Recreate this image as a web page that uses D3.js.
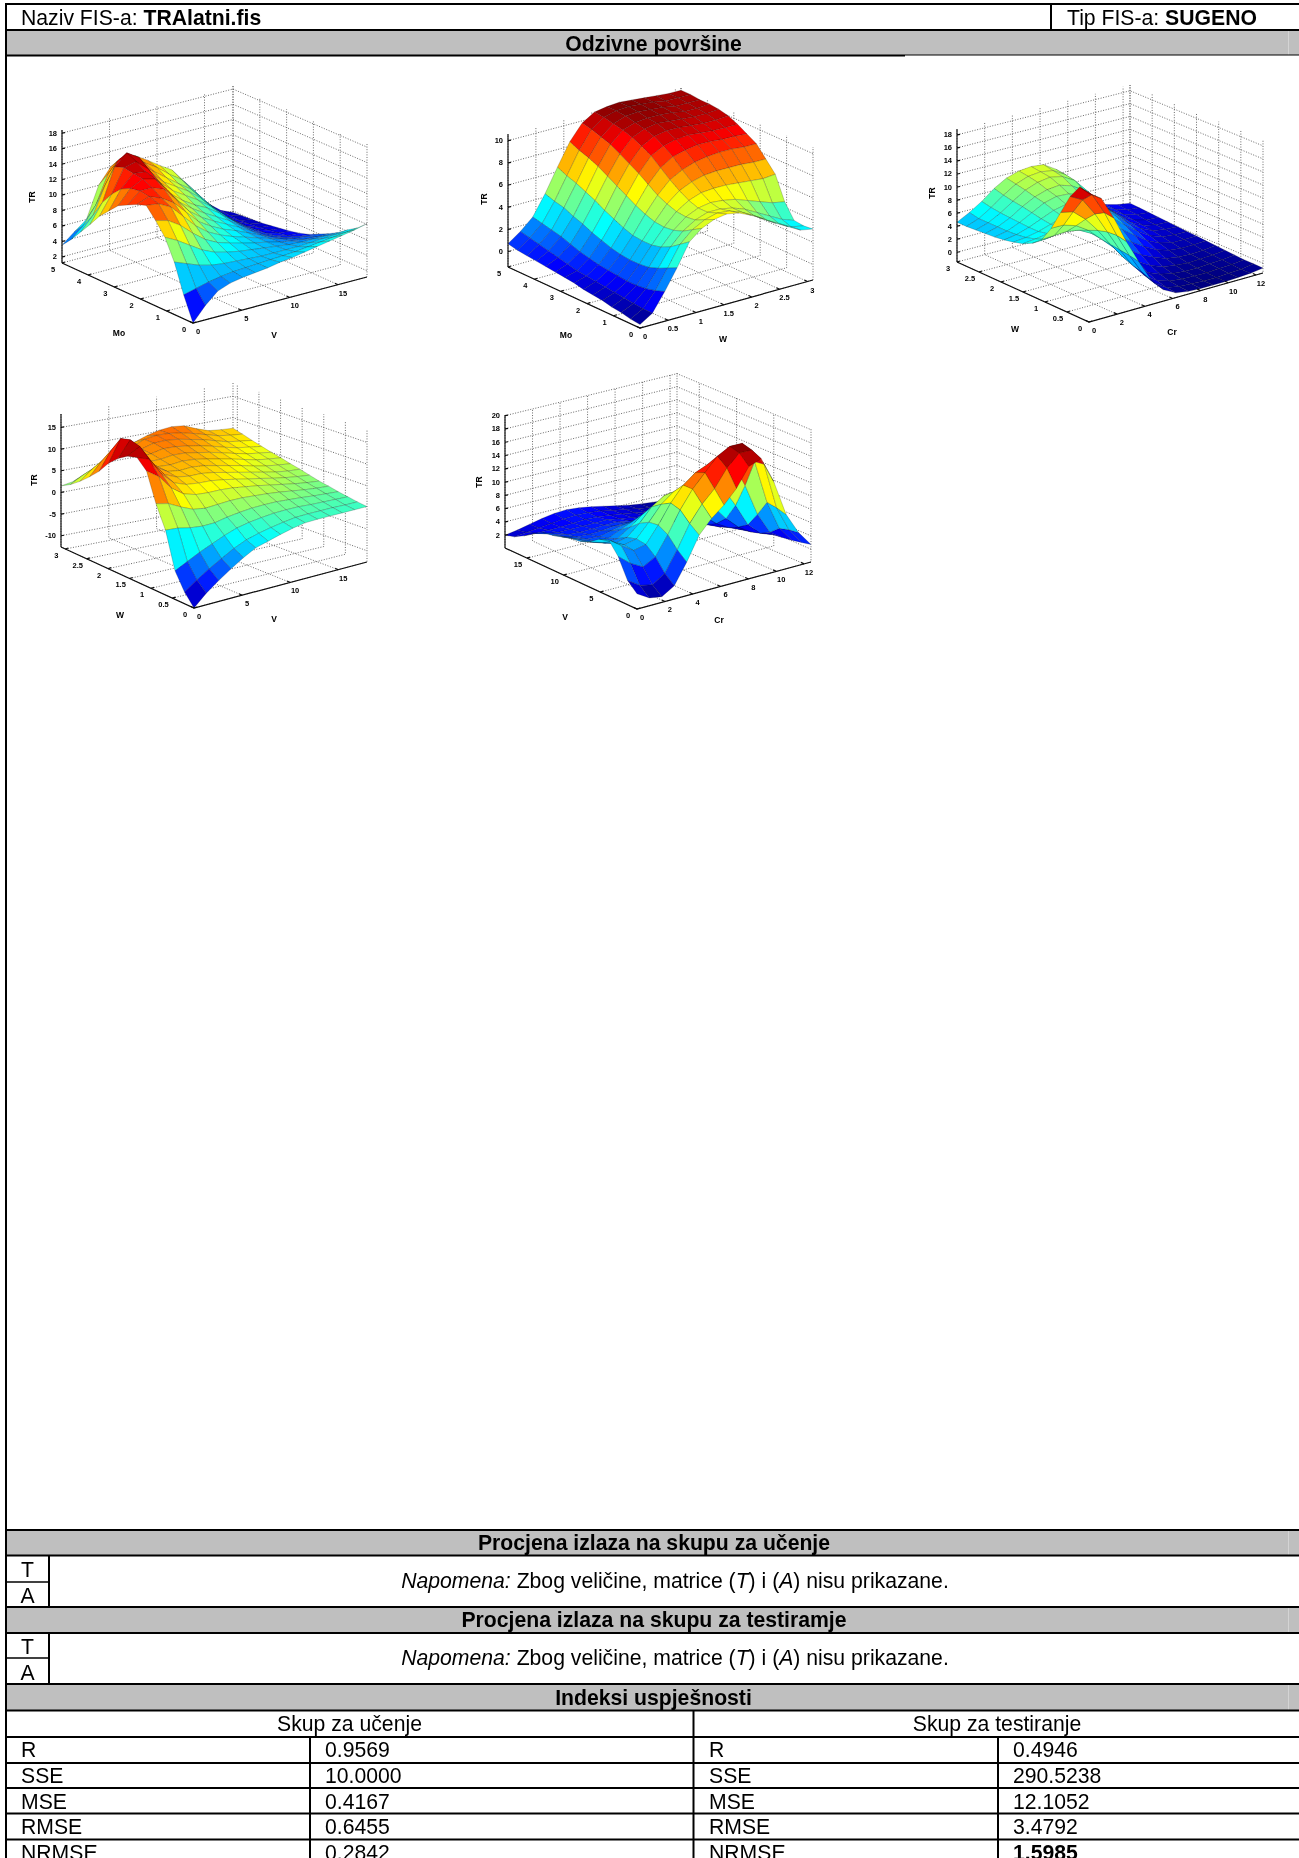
<!DOCTYPE html>
<html><head><meta charset="utf-8">
<script src="https://cdnjs.cloudflare.com/ajax/libs/d3/7.8.5/d3.min.js"></script>
<style>html,body{margin:0;padding:0;background:#fff}svg{display:block}
text{font-family:"Liberation Sans",Arial,sans-serif;fill:#000}</style></head><body>
<script>
// ---------- values ----------
const moTicks=[0,1,2,3,4,5], wTicks=[0,0.5,1,1.5,2,2.5,3], vTicks=[0,5,10,15], crTicks=[0,2,4,6,8,10,12];
const z1Ticks=[2,4,6,8,10,12,14,16,18], z2Ticks=[0,2,4,6,8,10], z3Ticks=[0,2,4,6,8,10,12,14,16,18],
      z4Ticks=[-10,-5,0,5,10,15], z5Ticks=[2,4,6,8,10,12,14,16,18,20];
// rows: left-going axis (0..max); columns: right-going axis (0..max)
const trMoV=[
[1.2,3.0,4.4,5.0,5.3,5.5,5.7,6.0,6.2,6.5,6.8,7.1,7.4,7.7,8.1],
[4.2,4.6,5.0,5.3,5.5,5.6,5.7,5.8,5.9,6.0,6.2,6.4,6.6,6.8,7.0],
[7.8,7.2,6.6,6.2,6.0,5.9,5.8,5.7,5.7,5.7,5.7,5.8,5.9,6.0,6.2],
[10.4,9.6,8.6,7.6,6.9,6.5,6.2,6.0,5.8,5.6,5.4,5.3,5.3,5.3,5.3],
[12.0,11.6,10.6,9.2,8.0,7.2,6.7,6.3,5.9,5.6,5.2,4.9,4.7,4.6,4.6],
[13.4,13.2,12.4,10.8,9.2,8.0,7.2,6.6,6.1,5.6,5.1,4.6,4.2,4.1,4.0],
[13.0,13.6,13.0,12.0,10.4,8.8,7.8,7.0,6.4,5.7,5.0,4.3,3.8,3.5,3.4],
[12.4,13.8,13.8,13.2,11.4,9.6,8.4,7.5,6.7,5.9,5.0,4.1,3.5,3.1,3.0],
[11.8,13.6,14.4,14.0,12.2,10.2,9.0,8.0,7.1,6.2,5.1,4.1,3.3,2.9,2.7],
[10.6,13.0,14.6,14.4,12.8,10.8,9.5,8.5,7.7,6.6,5.3,4.1,3.2,2.7,2.5],
[9.4,11.8,14.8,15.2,13.8,11.6,10.2,9.2,8.2,7.0,5.6,4.2,3.1,2.5,2.3],
[7.8,10.2,14.4,15.8,14.8,12.4,10.8,9.8,8.8,7.5,5.9,4.3,3.1,2.4,2.1],
[6.3,8.0,11.5,14.2,14.6,12.8,11.6,10.4,9.2,8.1,6.4,4.6,3.2,2.3,2.0],
[4.8,6.2,8.4,12.0,13.6,13.0,12.2,11.2,9.9,8.8,7.0,5.0,3.5,2.4,1.9],
[3.5,4.8,6.0,10.0,12.0,12.8,12.6,11.6,10.5,9.5,7.6,5.5,3.8,2.5,1.8]];
const trMoW=[
[-1.1,-0.4,1.2,3.0,5.0,5.9,6.4,6.6,6.4,5.9,5.3,4.6,4.0,3.4,3.2],
[-1.0,-0.4,0.9,2.6,4.4,5.4,6.0,6.3,6.2,5.8,5.2,4.5,3.9,3.3,3.1],
[-0.8,-0.3,0.7,2.2,3.8,4.9,5.6,6.0,6.0,5.8,5.4,4.8,4.2,3.6,3.2],
[-0.7,-0.2,0.6,1.9,3.4,4.6,5.5,6.0,6.2,6.1,5.9,5.5,5.1,4.7,4.5],
[-0.5,-0.1,0.6,1.8,3.2,4.5,5.6,6.3,6.7,6.8,6.8,6.7,6.6,6.5,6.6],
[-0.4,0,0.7,1.8,3.2,4.6,5.9,6.8,7.3,7.6,7.7,7.7,7.7,7.6,7.6],
[-0.3,0.1,0.8,1.9,3.3,4.9,6.3,7.4,8.0,8.4,8.6,8.7,8.7,8.6,8.6],
[-0.1,0.2,0.9,2.1,3.6,5.3,6.9,8.1,8.8,9.1,9.3,9.3,9.2,9.2,9.1],
[0,0.3,1.1,2.4,4.0,5.8,7.5,8.8,9.4,9.7,9.8,9.7,9.6,9.6,9.6],
[0.1,0.5,1.3,2.7,4.4,6.3,8.0,9.3,9.9,10.1,10.1,10,9.9,9.9,10],
[0.2,0.7,1.6,3.1,4.9,6.8,8.5,9.7,10.2,10.4,10.3,10.2,10.1,10.1,10.2],
[0.3,0.9,1.9,3.4,5.3,7.3,9,10,10.4,10.5,10.5,10.4,10.2,10.2,10.3],
[0.4,1.1,2.1,3.8,5.7,7.7,9.3,10.2,10.6,10.7,10.6,10.5,10.3,10.3,10.3],
[0.5,1.3,2.3,4.0,6.0,8,9.6,10.4,10.7,10.8,10.7,10.6,10.4,10.4,10.4],
[0.7,1.5,2.5,4.3,6.4,8.4,9.8,10.5,10.7,10.8,10.7,10.6,10.5,10.4,10.4]];
const trWCr=[
[17.6,16.4,13,9,5.5,2.2,0.2,-0.8,-1.1,-1.2,-1.2,-1.2,-1.1,-1,-0.75],
[18,16.4,13.2,9.3,5.8,2.8,0.6,-0.6,-1,-1.1,-1.2,-1.2,-1.1,-1,-0.7],
[16,15,12.4,9.2,6,3.2,1.1,-0.2,-0.8,-1,-1.1,-1.1,-1,-0.9,-0.7],
[13,12.6,11,8.8,6.2,3.8,1.8,0.4,-0.4,-0.8,-1,-1,-0.9,-0.8,-0.6],
[10,10,9.4,8.2,6.4,4.6,2.8,1.4,0.3,-0.4,-0.7,-0.9,-0.8,-0.7,-0.5],
[7.7,7.8,7.9,7.6,6.6,5.4,4,2.6,1.3,0.4,-0.3,-0.6,-0.7,-0.6,-0.4],
[6.5,6.6,6.9,7,6.9,6.2,5.2,4,2.6,1.4,0.4,-0.2,-0.4,-0.4,-0.3],
[5.8,6,6.3,6.7,7,6.9,6.3,5.3,3.9,2.5,1.2,0.3,-0.2,-0.2,-0.2],
[5.4,5.6,6,6.6,7.2,7.4,7,6.2,5,3.4,2,0.8,0.1,-0.1,-0.1],
[5.1,5.4,6,6.8,7.6,8,7.8,7.1,5.9,4.2,2.6,1.3,0.4,0.1,0],
[4.9,5.3,6.1,7.1,8.1,8.6,8.5,7.8,6.5,4.8,3.1,1.6,0.6,0.2,0.1],
[4.8,5.3,6.2,7.4,8.4,9,9.2,8.6,7.4,5.6,3.4,1.9,0.8,0.3,0.2],
[4.7,5.3,6.3,7.6,8.8,9.5,9.8,9.4,8.3,6.2,3.7,2.1,1,0.5,0.3],
[4.6,5.3,6.5,7.9,9.1,9.8,10,9.7,8.6,6.4,3.9,2.2,1.2,0.6,0.4],
[4.6,5.6,6.8,8.3,9.4,10,10.2,10,8.8,6.6,4,2.3,1.3,0.8,0.5]];
const trWV=[
[-12.6,-10,-7.9,-6,-4.2,-2.7,-1.9,-1.1,-0.4,0.1,0.2,0.2,0.2,0.2,0.2],
[-10,-8,-6.2,-4.6,-3,-1.8,-1,-0.4,0.1,0.5,0.6,0.6,0.6,0.5,0.5],
[-6.2,-4.8,-3.4,-2.2,-1,0,0.6,1,1.3,1.4,1.4,1.2,1.1,1,0.9],
[2,1.8,1.2,0.9,1,1.6,2,2.3,2.4,2.4,2.2,2,1.7,1.5,1.3],
[7,6.4,5,3.8,3.4,3.6,3.8,3.8,3.6,3.4,3.1,2.7,2.3,2,1.8],
[13.5,11.6,8.4,6.4,5.6,5.4,5.4,5.2,4.8,4.4,3.9,3.4,2.9,2.5,2.2],
[15.6,14.6,10.6,8,7,6.7,6.6,6.2,5.7,5.1,4.6,4,3.5,3.1,2.8],
[15,16.6,12.4,9,7.8,7.4,7.4,7,6.4,5.8,5.2,4.6,4,3.6,3.4],
[13.5,17.2,13.6,9.8,8.2,7.8,8,7.7,7.1,6.5,5.9,5.2,4.6,4.2,3.9],
[11.5,16.6,14.2,10.2,8.4,8.2,8.5,8.3,7.8,7.2,6.6,5.9,5.2,4.8,4.5],
[8.7,13,13.6,10.4,8.6,8.6,9,8.9,8.4,7.9,7.2,6.5,5.8,5.4,5],
[6.5,9.6,11.2,9.8,8.8,9,9.6,9.5,9.1,8.6,7.9,7.1,6.4,6,5.6],
[4.5,6.8,8.4,8.6,8.6,9.2,10,10.1,9.8,9.2,8.6,7.8,7,6.6,6.2],
[2.8,4.4,5.6,6.6,7.6,8.8,10,10.4,10.3,9.9,9.2,8.4,7.6,7.2,6.9],
[1.5,2,3,4,5.5,7,8.5,9.5,10.2,10.5,10.2,9,8,7.7,7.5]];
const trVCr=[
[2.3,1.2,0.9,2,5,8.5,10.5,12,14,16.8,17.5,13.6,8.2,5,2.7],
[3.6,2.4,2,3.2,6.2,9.6,12,13.8,16.4,18.2,18.2,15.6,8.6,4.8,2.4],
[6.5,5,4,5,7.8,11,13.6,15.6,17.6,18.6,18.6,15.4,8.8,4.4,2.1],
[8.3,7,5.8,6.2,8.6,11.4,13.6,15,15.8,16,15,11.2,6.4,3.2,1.9],
[7.8,7,6,6.4,8.4,10.6,12,12.6,12.6,12,10.6,7.6,4.2,2.4,1.7],
[6.8,6.2,5.6,6,7.6,9.6,10.8,11,10.4,9.2,7.2,5,3.2,2,1.5],
[6.2,5.6,5,5.2,6.4,7.8,8.6,8.6,7.9,6.8,5.2,3.6,2.5,1.7,1.3],
[6,5.2,4.6,4.6,5.4,6.2,6.6,6.4,5.8,4.9,3.8,2.8,2,1.5,1.2],
[5.6,4.9,4.3,4.2,4.6,5,5.1,4.8,4.3,3.7,3,2.3,1.7,1.3,1.1],
[5.2,4.5,4,3.9,4,4.2,4.2,3.9,3.5,3,2.5,2,1.6,1.2,1],
[5,4.2,3.7,3.6,3.6,3.7,3.7,3.4,3,2.7,2.3,1.9,1.5,1.2,1],
[4.2,3.7,3.4,3.4,3.4,3.4,3.4,3.1,2.8,2.5,2.1,1.8,1.5,1.2,1],
[3.2,3.1,3.1,3.1,3.2,3.3,3.2,3,2.7,2.4,2,1.7,1.4,1.2,1],
[2.4,2.6,2.8,3,3.2,3.3,3.2,3,2.6,2.3,1.9,1.6,1.4,1.2,1],
[2,2.3,2.7,3.1,3.4,3.5,3.3,3,2.6,2.2,1.8,1.5,1.3,1.1,1]];
const metricNames=["R","SSE","MSE","RMSE","NRMSE"];
const trainValues=["0.9569","10.0000","0.4167","0.6455","0.2842"];
const testValues=["0.4946","290.5238","12.1052","3.4792","1.5985"];

// ---------- page ----------
const W=1299,H=1858;
const svg=d3.select("body").append("svg").attr("width",W).attr("height",H).attr("viewBox",[0,0,W,H]);
svg.append("rect").attr("width",W).attr("height",H).attr("fill","#fff");
const defs=svg.append("defs");
defs.append("filter").attr("id","soft").attr("x","-5%").attr("y","-5%").attr("width","110%").attr("height","110%")
  .append("feGaussianBlur").attr("stdDeviation",0.6);
defs.append("filter").attr("id","softT").attr("filterUnits","userSpaceOnUse").attr("x",0).attr("y",0).attr("width",W).attr("height",H)
  .append("feGaussianBlur").attr("stdDeviation",0.3);

// ---------- surfaces ----------
const jet=d3.scaleLinear().domain([0,0.125,0.375,0.625,0.875,1])
  .range(["#00007f","#0000ff","#00ffff","#ffff00","#ff0000","#7f0000"]).clamp(true);
const plots=[
 {z:trMoV,A:["Mo",5,moTicks],B:["V",18,vTicks],zd:[1.2,18.4],zt:z1Ticks,
  c:{left:[62,263],front:[193,323],right:[367,277],back:[233,217]},aL:[119,336],bL:[274,338],tL:[35,197]},
 {z:trMoW,A:["Mo",5,moTicks],B:["W",3.1,wTicks],zd:[-1.4,10.6],zt:z2Ticks,
  c:{left:[508,267],front:[640,328],right:[813,280],back:[681,219]},aL:[566,338],bL:[723,342],tL:[487,199]},
 {z:trWCr,A:["W",3,wTicks],B:["Cr",12.5,crTicks],zd:[-1.5,18.9],zt:z3Ticks,
  c:{left:[957,262],front:[1089,322],right:[1263,273],back:[1130,216]},aL:[1015,332],bL:[1172,335],tL:[935,193]},
 {z:trWV,A:["W",3.1,wTicks],B:["V",18,vTicks],zd:[-12.6,18.1],zt:z4Ticks,
  c:{left:[61,547],front:[194,608],right:[367,562],back:[233,514]},aL:[120,618],bL:[274,622],tL:[37,480]},
 {z:trVCr,A:["V",18,vTicks],B:["Cr",12.5,crTicks],zd:[0.07,20.1],zt:z5Ticks,
  c:{left:[505,548],front:[637,609],right:[811,562],back:[677,504]},aL:[565,620],bL:[719,623],tL:[482,482]}
];
const unit=d3.scaleLinear().domain([0,1]);
plots.forEach(p=>{
  const g=svg.append("g").attr("filter","url(#soft)");
  const near=unit.copy().range([p.c.front,p.c.right]), far=unit.copy().range([p.c.left,p.c.back]);
  const hNear=unit.copy().range([137,133]), hFar=unit.copy().range([133,131]);
  const zn=d3.scaleLinear().domain(p.zd).range([0,1]);
  // u: fraction along left-going axis, v: along right-going axis, zv: data value
  const proj=(u,v,zv)=>{
    const xy=unit.copy().range([near(v),far(v)])(u);
    const h=unit.copy().range([hNear(v),hFar(v)])(u);
    return [xy[0],xy[1]-zn(zv)*h];
  };
  const uA=d3.scaleLinear().domain([0,p.A[1]]).range([0,1]);
  const uB=d3.scaleLinear().domain([0,p.B[1]]).range([0,1]);
  const [z0,z1]=p.zd;
  const grid=[];
  p.zt.forEach(t=>{grid.push([proj(1,0,t),proj(1,1,t),proj(0,1,t)]);});
  p.B[2].forEach(t=>{const v=uB(t);grid.push([proj(0,v,z0),proj(1,v,z0),proj(1,v,z1)]);});
  p.A[2].forEach(t=>{const u=uA(t);grid.push([proj(u,0,z0),proj(u,1,z0),proj(u,1,z1)]);});
  grid.push([proj(1,1,z0),proj(1,1,z1)]);
  g.append("g").selectAll("path").data(grid).join("path")
    .attr("d",d3.line()).attr("fill","none").attr("stroke","#444").attr("stroke-width",0.8).attr("stroke-dasharray","1 1.6");
  // surface cells, painted from the far corner to the near corner
  const n=p.z.length-1,m=p.z[0].length-1;
  const flat=p.z.flat(), col=d3.scaleLinear().domain(d3.extent(flat)).range([0,1]);
  const cells=[];
  for(let i=n-1;i>=0;i--)for(let j=m-1;j>=0;j--){
    const a=p.z[i][j],b=p.z[i+1][j],c=p.z[i+1][j+1],d=p.z[i][j+1];
    cells.push({pts:[proj(i/n,j/m,a),proj((i+1)/n,j/m,b),proj((i+1)/n,(j+1)/m,c),proj(i/n,(j+1)/m,d)],val:(a+b+c+d)/4});
  }
  g.append("g").selectAll("path").data(cells).join("path")
    .attr("d",d=>d3.line()(d.pts)+"Z").attr("fill",d=>jet(col(d.val)))
    .attr("stroke","#111").attr("stroke-opacity",0.45).attr("stroke-width",0.45).attr("stroke-linejoin","round");
  // axes
  const ax=g.append("g").attr("stroke","#111").attr("stroke-width",1.2).attr("fill","none");
  ax.append("path").attr("d",d3.line()([proj(1,0,z0),proj(0,0,z0),proj(0,1,z0)]));
  ax.append("path").attr("d",d3.line()([proj(1,0,z0),proj(1,0,z1)]));
  const tx=g.append("g").attr("font-size",7.5).attr("font-weight","bold").attr("text-anchor","middle");
  p.A[2].forEach(t=>{const q=proj(uA(t),0,z0);
    ax.append("path").attr("d",d3.line()([q,[q[0]+3,q[1]-1]]));
    tx.append("text").attr("x",q[0]-9).attr("y",q[1]+9).text(t);});
  p.B[2].forEach(t=>{const q=proj(0,uB(t),z0);
    ax.append("path").attr("d",d3.line()([q,[q[0]-3,q[1]-1.5]]));
    tx.append("text").attr("x",q[0]+5).attr("y",q[1]+11).text(t);});
  p.zt.forEach(t=>{const q=proj(1,0,t);
    ax.append("path").attr("d",d3.line()([q,[q[0]+3,q[1]-0.5]]));
    tx.append("text").attr("x",q[0]-5).attr("y",q[1]+2.5).attr("text-anchor","end").text(t);});
  const lab=g.append("g").attr("font-size",8.5).attr("font-weight","bold").attr("text-anchor","middle");
  lab.append("text").attr("x",p.aL[0]).attr("y",p.aL[1]).text(p.A[0]);
  lab.append("text").attr("x",p.bL[0]).attr("y",p.bL[1]).text(p.B[0]);
  lab.append("text").attr("transform",`translate(${p.tL[0]},${p.tL[1]}) rotate(-90)`).text("TR");
});

// ---------- table ----------
const grayRows=[[31,55],[1531,1555],[1608,1632],[1685,1710]];
const hLines=[[5,1299,4,2],[5,1299,30,2],[5,905,55.5,2],[905,1299,55,1],[5,1299,1530,2],[5,1299,1555.5,2],[6,49,1582,1.5],[5,1299,1607,2],
  [5,1299,1633,2],[6,49,1658,1.5],[5,1299,1684,2],[5,1299,1710.5,2],[5,1299,1737,2],[5,1299,1763,2],[5,1299,1788,2],[5,1299,1813.5,2],[5,1299,1839.5,2]];
const vLines=[[6,4,1858,2],[1051,4,30,2],[49,1555,1607,2],[49,1633,1684,2],[693.5,1710,1858,2],[310,1737,1858,2],[998,1737,1858,2]];
svg.append("g").selectAll("rect").data(grayRows).join("rect")
  .attr("x",6).attr("y",d=>d[0]).attr("width",W-6).attr("height",d=>d[1]-d[0]).attr("fill","#bfbfbf");
svg.append("g").selectAll("rect").data(grayRows).join("rect")
  .attr("x",1288).attr("y",d=>d[0]).attr("width",1).attr("height",d=>d[1]-d[0]).attr("fill","#d4d4d4");
const tb=svg.append("g").attr("filter","url(#softT)");
tb.append("g").selectAll("line").data(hLines).join("line").attr("x1",d=>d[0]).attr("x2",d=>d[1]).attr("y1",d=>d[2]).attr("y2",d=>d[2])
  .attr("stroke","#000").attr("stroke-width",d=>d[3]);
tb.append("g").selectAll("line").data(vLines).join("line").attr("x1",d=>d[0]).attr("x2",d=>d[0]).attr("y1",d=>d[1]).attr("y2",d=>d[2])
  .attr("stroke","#000").attr("stroke-width",d=>d[3]);
const FS=21.2;
const put=(x,y,parts,anchor)=>{
  const t=tb.append("text").attr("x",x).attr("y",y).attr("font-size",FS).attr("text-anchor",anchor||"start");
  parts.forEach(p=>{const s=t.append("tspan").text(p[0]);
    if(p[1]==="b")s.attr("font-weight","bold"); if(p[1]==="i")s.attr("font-style","italic");});
};
put(21,25,[["Naziv FIS-a: "],["TRAlatni.fis","b"]]);
put(1067,25,[["Tip FIS-a: "],["SUGENO","b"]]);
put(653.5,50.5,[["Odzivne površine","b"]],"middle");
put(654,1549.5,[["Procjena izlaza na skupu za učenje","b"]],"middle");
put(654,1627,[["Procjena izlaza na skupu za testiramje","b"]],"middle");
put(653.5,1704.5,[["Indeksi uspješnosti","b"]],"middle");
const note=[["Napomena:","i"],[" Zbog veličine, matrice ("],["T","i"],[") i ("],["A","i"],[") nisu prikazane."]];
put(675,1587.5,note,"middle"); put(675,1665,note,"middle");
[[1577,"T"],[1603,"A"],[1654,"T"],[1680,"A"]].forEach(d=>put(27.5,d[0],[[d[1]]],"middle"));
put(349.5,1730.5,[["Skup za učenje"]],"middle"); put(997,1730.5,[["Skup za testiranje"]],"middle");
const rowY=d3.scaleLinear().domain([0,4]).range([1757,1860]);
metricNames.forEach((n,i)=>{
  const y=rowY(i);
  put(21,y,[[n]]); put(325,y,[[trainValues[i]]]);
  put(709,y,[[n]]); put(1013,y,[[testValues[i],i===4?"b":""]]);
});
</script></body></html>
